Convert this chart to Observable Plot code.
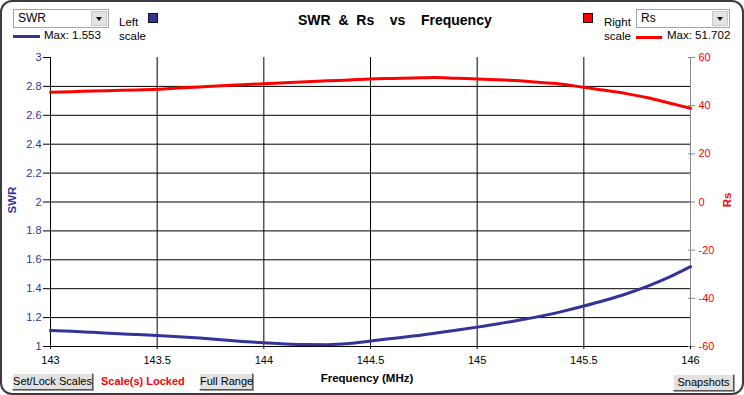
<!DOCTYPE html>
<html><head><meta charset="utf-8">
<script src="https://cdn.jsdelivr.net/npm/d3@7"></script>
<script src="https://cdn.jsdelivr.net/npm/@observablehq/plot@0.6"></script>
<style>
html,body{margin:0;padding:0;background:#fff;}
#wrap{position:relative;width:744px;height:395px;overflow:hidden;font-family:"Liberation Sans",Arial,sans-serif;}
#wrap svg{position:absolute;left:0;top:0;}
.abs{position:absolute;white-space:pre;}
.frame{position:absolute;left:0;top:0;width:744px;height:395px;box-sizing:border-box;border:2px solid #3c3c3c;border-radius:12px;pointer-events:none;}
.dd{position:absolute;height:19px;box-sizing:border-box;border:1px solid #a5a5a5;background:#fff;font-size:12px;line-height:17px;padding-left:4px;}
.dd .btn{position:absolute;right:1px;top:1px;width:16px;height:15px;background:#e3e3e3;border:1px solid #c8c8c8;box-sizing:border-box;}
.dd .btn:after{content:"";position:absolute;left:4px;top:5px;border-left:3.5px solid transparent;border-right:3.5px solid transparent;border-top:4px solid #111;}
.button{position:absolute;height:17px;box-sizing:border-box;background:#e1e1e1;border:1px solid #fff;border-right-color:#555;border-bottom-color:#555;font-size:11px;line-height:15px;text-align:center;box-shadow:1px 1px 0 #999;white-space:nowrap;overflow:visible;}
.small{font-size:11.5px;}
</style></head>
<body><div id="wrap"></div>
<script>
// Frequency (MHz)
const freq = [143.0,143.1,143.2,143.3,143.4,143.5,143.6,143.7,143.8,143.9,144.0,144.1,144.2,144.3,144.4,144.5,144.6,144.7,144.8,144.9,145.0,145.1,145.2,145.3,145.4,145.5,145.6,145.7,145.8,145.9,146.0];
// SWR (left scale)
const swr = [1.110,1.105,1.098,1.090,1.083,1.076,1.068,1.058,1.046,1.035,1.026,1.018,1.013,1.012,1.020,1.038,1.055,1.072,1.092,1.113,1.134,1.157,1.183,1.210,1.243,1.280,1.320,1.365,1.418,1.480,1.553];
// Rs (right scale)
const rs = [45.6,45.8,46.1,46.3,46.5,46.8,47.3,47.8,48.3,48.7,49.1,49.5,49.9,50.3,50.7,51.1,51.3,51.5,51.7,51.4,51.1,50.8,50.3,49.6,48.9,47.6,46.4,45.0,43.3,41.1,38.9];
const xTicks = [143,143.5,144,144.5,145,145.5,146];
const leftTicks = [1,1.2,1.4,1.6,1.8,2,2.2,2.4,2.6,2.8,3];
const rightTicks = [60,40,20,0,-20,-40,-60];
const leftDomain = [1,3];
const rightDomain = [-60,60];

const BLUE = "#333399", RED = "#ff0000";
// map right scale values onto the left (SWR) scale
const toLeft = v => leftDomain[0] + (v - rightDomain[0]) / (rightDomain[1]-rightDomain[0]) * (leftDomain[1]-leftDomain[0]);
const toRight = d => Math.round((d-leftDomain[0])/(leftDomain[1]-leftDomain[0])*(rightDomain[1]-rightDomain[0]) + rightDomain[0]);

const swrData = freq.map((f,i)=>({f, v: swr[i]}));
const rsData = freq.map((f,i)=>({f, v: toLeft(rs[i])}));
const innerY = leftTicks.filter(t => t>leftDomain[0] && t<leftDomain[1]);
const innerX = xTicks.filter(t => t>143 && t<146);

const chart = Plot.plot({
  width: 744, height: 395,
  marginLeft: 50, marginRight: 54, marginTop: 57, marginBottom: 49,
  style: {fontFamily: '"Liberation Sans", Arial, sans-serif', fontSize: "11px", background: "transparent", overflow: "visible"},
  x: {domain: [143,146]},
  y: {domain: leftDomain},
  marks: [
    Plot.ruleY(innerY, {stroke: "black", strokeWidth: 1}),
    Plot.ruleX(innerX, {stroke: "black", strokeWidth: 1}),
    Plot.ruleX([146], {stroke: "#8a8a8a"}),
    Plot.ruleX([143], {stroke: "black"}),
    Plot.ruleY([1], {stroke: "black"}),
    Plot.axisY({ticks: leftTicks, tickSize: 7, tickPadding: 2, tickFormat: d => String(d), stroke: "black", fill: BLUE, label: null}),
    Plot.axisY({anchor: "right", ticks: rightTicks.map(toLeft), tickSize: 4, tickPadding: 4, tickFormat: toRight, stroke: "#8a8a8a", fill: RED, label: null}),
    Plot.axisY({anchor: "right", ticks: rightTicks.map(toLeft), tickSize: -3, tickFormat: () => "", stroke: "#8a8a8a", label: null}),
    Plot.axisX({ticks: xTicks, tickSize: 3, tickPadding: 7, tickFormat: d => String(d), stroke: "black", fill: "black", label: null}),
    Plot.line(rsData, {x: "f", y: "v", stroke: RED, strokeWidth: 3, curve: "monotone-x"}),
    Plot.line(swrData, {x: "f", y: "v", stroke: BLUE, strokeWidth: 3, curve: "monotone-x"})
  ]
});
const wrap = document.getElementById("wrap");
wrap.appendChild(chart);

function add(html){ wrap.insertAdjacentHTML("beforeend", html); }
add(`<div class="frame"></div>`);
add(`<div class="abs" style="left:298px;top:12px;font-weight:bold;font-size:14px;">SWR  &amp;  Rs    vs    Frequency</div>`);
// left controls
add(`<div class="dd" style="left:13px;top:9px;width:96px;">SWR<div class="btn"></div></div>`);
add(`<div class="abs" style="left:13px;top:35px;width:27px;height:3px;background:${BLUE}"></div>`);
add(`<div class="abs small" style="left:44px;top:29px;">Max: 1.553</div>`);
add(`<div class="abs small" style="left:119px;top:15px;line-height:14px;">Left\nscale</div>`);
add(`<div class="abs" style="left:148px;top:13px;width:10px;height:10px;box-sizing:border-box;border:1px solid #111;background:${BLUE}"></div>`);
// right controls
add(`<div class="abs" style="left:583px;top:13px;width:10px;height:10px;box-sizing:border-box;border:1px solid #111;background:${RED}"></div>`);
add(`<div class="abs small" style="left:604px;top:15px;line-height:14px;">Right\nscale</div>`);
add(`<div class="dd" style="left:636px;top:9px;width:94px;">Rs<div class="btn"></div></div>`);
add(`<div class="abs" style="left:636px;top:36px;width:26px;height:3px;background:${RED}"></div>`);
add(`<div class="abs small" style="left:667px;top:29px;">Max: 51.702</div>`);
// axis titles
add(`<div class="abs" style="left:12px;top:200px;transform:translate(-50%,-50%) rotate(-90deg);color:${BLUE};font-weight:bold;font-size:11.5px;">SWR</div>`);
add(`<div class="abs" style="left:727px;top:200px;transform:translate(-50%,-50%) rotate(-90deg);color:${RED};font-weight:bold;font-size:11.5px;">Rs</div>`);
add(`<div class="abs" style="left:367px;top:378px;transform:translate(-50%,-50%);font-weight:bold;font-size:11.5px;">Frequency (MHz)</div>`);
// bottom buttons
add(`<div class="button" style="left:12px;top:373px;width:81px;">Set/Lock Scales</div>`);
add(`<div class="abs" style="left:101px;top:375px;color:${RED};font-weight:bold;font-size:11px;">Scale(s) Locked</div>`);
add(`<div class="button" style="left:199px;top:373px;width:54px;">Full Range</div>`);
add(`<div class="button" style="left:673px;top:374px;width:61px;">Snapshots</div>`);
</script></body></html>
